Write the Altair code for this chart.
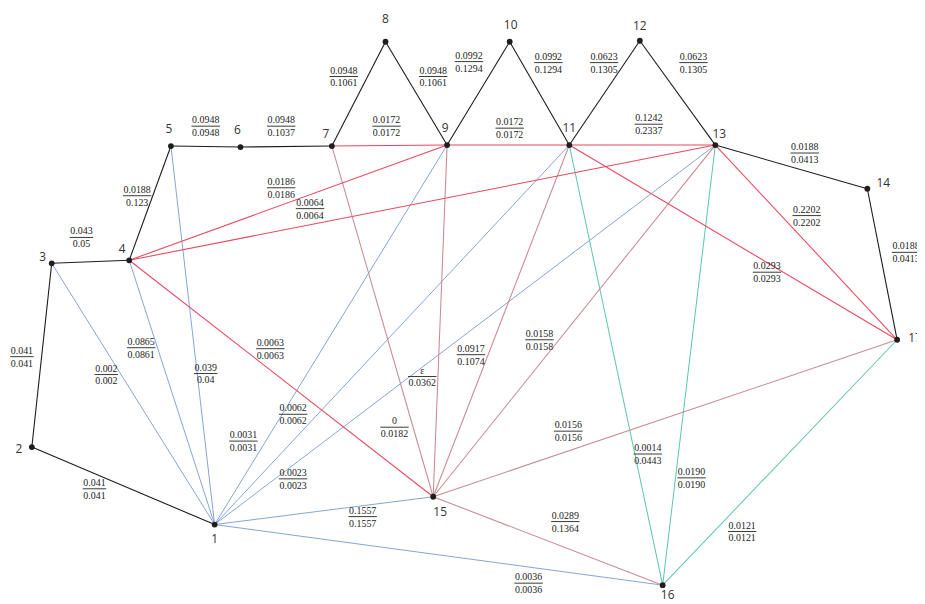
import altair as alt
import pandas as pd

# ---- node data ----
node_id = list(range(1, 18))
node_x = [216, 32, 52, 130, 172, 242, 334, 388, 450, 513, 573, 644, 720, 873, 436, 667, 903]
node_y = [526, 448, 263, 260, 145, 146, 145, 40, 144, 40, 144, 39, 144, 188, 498, 587, 340]
node_lx = [216, 19, 43, 123, 170, 239, 328, 388, 448, 514, 573, 644, 724, 889, 443, 672, 921]
node_ly = [541, 450, 257, 249, 128, 129, 133, 17, 127, 23, 127, 24, 133, 182, 513, 597, 338]

# ---- edges (from, to, kind) ----
edge_a = [1, 2, 3, 4, 5, 6, 7, 8, 9, 10, 11, 12, 13, 14,
          7, 9, 11, 4, 4, 4, 13, 11,
          15, 7, 9, 11, 13, 15,
          1, 1, 1, 1, 1, 1, 1, 1,
          11, 13, 17]
edge_b = [2, 3, 4, 5, 6, 7, 8, 9, 10, 11, 12, 13, 14, 17,
          9, 11, 13, 9, 13, 15, 17, 17,
          17, 15, 15, 15, 15, 16,
          3, 4, 5, 9, 11, 13, 15, 16,
          16, 16, 16]
edge_kind = (["main"] * 14 + ["red"] * 8 + ["rose"] * 6 + ["blue"] * 8 + ["teal"] * 3)

# ---- fraction labels ----
lab_num = ["0.041", "0.041", "0.043", "0.0188", "0.0948", "0.0948", "0.0948", "0.0948",
           "0.0992", "0.0992", "0.0623", "0.0623", "0.0188", "0.0188", "0.0172", "0.0172",
           "0.1242", "0.0186", "0.0064", "0.0063", "0.2202", "0.0293", "0.002", "0.0865",
           "0.039", "0.0031", "0.0062", "0.0023", "ε", "0", "0.0917", "0.0158", "0.1557",
           "0.0156", "0.0014", "0.0190", "0.0289", "0.0036", "0.0121"]
lab_den = ["0.041", "0.041", "0.05", "0.123", "0.0948", "0.1037", "0.1061", "0.1061",
           "0.1294", "0.1294", "0.1305", "0.1305", "0.0413", "0.0413", "0.0172", "0.0172",
           "0.2337", "0.0186", "0.0064", "0.0063", "0.2202", "0.0293", "0.002", "0.0861",
           "0.04", "0.0031", "0.0062", "0.0023", "0.0362", "0.0182", "0.1074", "0.0158", "0.1557",
           "0.0156", "0.0443", "0.0190", "0.1364", "0.0036", "0.0121"]
lab_x = [95, 22, 82, 138, 207, 283, 346, 436, 472, 552, 608, 698, 810, 912, 389, 513,
         653, 283, 312, 272, 812, 772, 107, 142, 207, 245, 295, 295, 425, 397, 474, 543, 365,
         572, 652, 696, 569, 532, 747]
lab_y = [490, 357, 237, 195, 125, 125, 75, 75, 60, 61, 61, 61, 152, 252, 125, 127,
         123, 187, 208, 349, 215, 272, 375, 348, 374, 442, 415, 480, 377, 428, 355, 340, 518,
         432, 455, 479, 523, 585, 533]

kinds = ["blue", "teal", "rose", "red", "main"]
kind_colors = ["#86a3d6", "#5fc6b2", "#c98a90", "#e8485e", "#1c1c1c"]
kind_widths = [1.0, 1.1, 1.1, 1.4, 2.6]

pos = {n: (x, y) for n, x, y in zip(node_id, node_x, node_y)}
edges = pd.DataFrame({
    "a": edge_a, "b": edge_b, "kind": edge_kind,
})
edges["x"] = [pos[a][0] for a in edges["a"]]
edges["y"] = [pos[a][1] for a in edges["a"]]
edges["x2"] = [pos[b][0] for b in edges["b"]]
edges["y2"] = [pos[b][1] for b in edges["b"]]
edges["order"] = [kinds.index(k) for k in edges["kind"]]
edges = edges.sort_values("order", kind="stable")

nodes = pd.DataFrame({"id": [str(i) for i in node_id], "x": node_x, "y": node_y,
                      "lx": node_lx, "ly": node_ly})


def text_w(s):
    return sum(2.6 if c == "." else 5.0 for c in s)


labels = pd.DataFrame({"num": lab_num, "den": lab_den, "x": lab_x, "y": lab_y})
labels["w"] = [max(text_w(n), text_w(d)) + 1 for n, d in zip(lab_num, lab_den)]
labels["bx"] = labels["x"] - labels["w"] / 2
labels["bx2"] = labels["x"] + labels["w"] / 2

xs = alt.Scale(domain=[8, 923])
ys = alt.Scale(domain=[8, 602], reverse=True)

edge_layer = alt.Chart(edges).mark_rule().encode(
    x=alt.X("x:Q", scale=xs, axis=None),
    y=alt.Y("y:Q", scale=ys, axis=None),
    x2="x2:Q", y2="y2:Q",
    color=alt.Color("kind:N", scale=alt.Scale(domain=kinds, range=kind_colors), legend=None),
    strokeWidth=alt.StrokeWidth("kind:N", scale=alt.Scale(domain=kinds, range=kind_widths), legend=None),
)

node_layer = alt.Chart(nodes).mark_circle(size=34, color="#1e1e1e", opacity=1).encode(
    x=alt.X("x:Q", scale=xs, axis=None), y=alt.Y("y:Q", scale=ys, axis=None)
)

node_text = alt.Chart(nodes).mark_text(font="Open Sans", fontSize=12, color="#333",
                                       baseline="middle", align="center").encode(
    x=alt.X("lx:Q", scale=xs, axis=None), y=alt.Y("ly:Q", scale=ys, axis=None), text="id:N"
)

num_text = alt.Chart(labels).mark_text(font="Liberation Serif", fontSize=10, color="#222",
                                       baseline="bottom", dy=-1).encode(
    x=alt.X("x:Q", scale=xs, axis=None), y=alt.Y("y:Q", scale=ys, axis=None), text="num:N"
)
den_text = alt.Chart(labels).mark_text(font="Liberation Serif", fontSize=10, color="#222",
                                       baseline="top", dy=2).encode(
    x=alt.X("x:Q", scale=xs, axis=None), y=alt.Y("y:Q", scale=ys, axis=None), text="den:N"
)
bar = alt.Chart(labels).mark_rule(color="#222", strokeWidth=0.9).encode(
    x=alt.X("bx:Q", scale=xs, axis=None), x2="bx2:Q",
    y=alt.Y("y:Q", scale=ys, axis=None)
)

chart = alt.layer(edge_layer, bar, num_text, den_text, node_layer, node_text).properties(
    width=915, height=594, autosize="none", padding=0, background="white"
).configure_view(stroke=None)

chart.save("out.html", embed_options={"renderer": "svg", "actions": False})
